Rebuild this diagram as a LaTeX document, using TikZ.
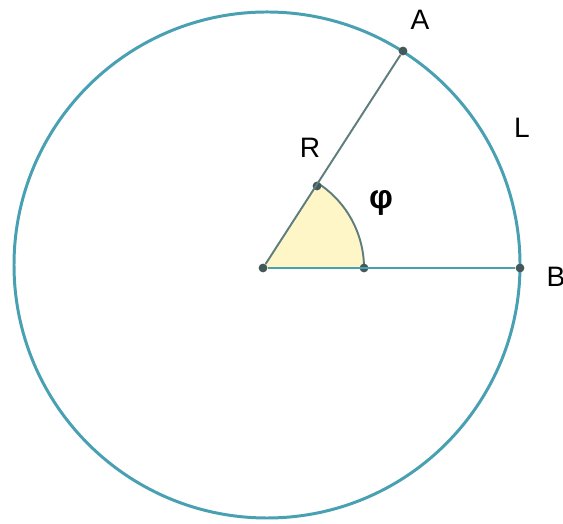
\documentclass[tikz,border=0pt]{standalone}
\usepackage{fontspec}
\setmainfont{Liberation Sans}
\usetikzlibrary{arrows.meta}
\definecolor{rim}{RGB}{72,160,178}
\definecolor{rod}{RGB}{95,125,125}
\definecolor{wedge}{RGB}{255,246,200}
\tikzset{
  dot/.style={circle,fill=rod!70!black,inner sep=0pt,minimum size=5pt},
  lbl/.style={font=\fontsize{16}{19}\selectfont}
}

\begin{document}
\begin{tikzpicture}[x=0.02cm,y=0.02cm]
\path[use as bounding box] (0,0) rectangle (563,523);

% circle
\draw[rim,line width=1.7pt] (267,258) circle (253);

% angle sector
\fill[wedge] (263,255) -- ++(0:101) arc (0:57.3:101) -- cycle;
\draw[rod,line width=1.1pt] (263,255) ++(0:101) arc (0:57.3:101);

% points
\node[dot] (O) at (263,255) {};
\node[dot] (A) at (403,472) {};
\node[dot] (B) at (520,255) {};
\node[dot] (P) at (317,337) {};
\node[dot] (Q) at (364,255) {};

% radii
\draw[rod,line width=1.1pt] (O) -- (A);
\draw[rim,line width=1.6pt] (O) -- (B);

% labels
\node[lbl] (labA) at (420,503) {A};
\node[lbl] (labB) at (556,246) {B};
\node[lbl] (labR) at (310,375) {R};
\node[lbl] (labL) at (522,395) {L};
\node[lbl,font=\fontsize{19}{21}\selectfont\bfseries] (labphi) at (381,320) {φ};
\end{tikzpicture}
\end{document}
